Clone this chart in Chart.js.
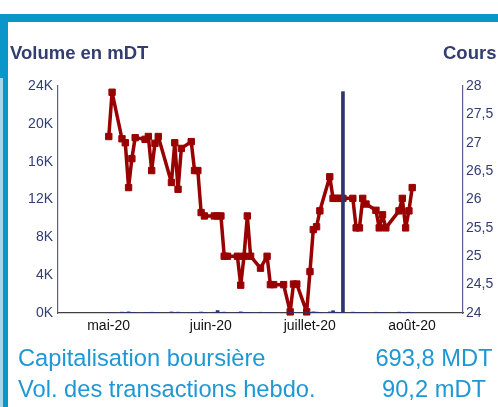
<!DOCTYPE html>
<html>
<head>
<meta charset="utf-8">
<script src="https://cdn.jsdelivr.net/npm/chart.js@4.4.1/dist/chart.umd.min.js"></script>
<style>
  body { margin: 0; background: #fff; }
  #wrap { position: relative; width: 498px; height: 407px; }
</style>
</head>
<body>
<div id="wrap"><canvas id="chart" width="498" height="407"></canvas></div>
<script>
// trading days, counted from 1 May 2020 (day 0)
const days = [-1, 0, 3, 4, 5, 6, 7, 10, 11, 12, 13, 14, 18, 19, 20, 21, 24, 25, 26, 27, 28,
  31, 32, 33, 34, 35, 38, 39, 40, 41, 42, 45, 47, 48, 49, 52, 54, 55, 56, 59, 60,
  61, 62, 63, 66, 67, 68, 69, 70, 73, 74, 75, 76, 77, 80, 81, 82, 83, 87, 88, 89, 90, 91];

// cours (DT)
const cours = [27.11, 27.89, 27.07, 27.00, 26.21, 26.72, 27.09, 27.06, 27.11, 26.51, 26.99, 27.11,
  26.30, 27.00, 26.18, 26.90, 27.02, 26.51, 26.51, 25.77, 25.71,
  25.71, 25.71, 25.71, 25.00, 25.00, 25.00, 24.49, 25.00, 25.71, 25.00, 24.79, 25.00, 24.50, 24.50,
  24.50, 24.02, 24.51, 24.51, 24.02, 24.73,
  25.47, 25.52, 25.80, 26.40, 26.02, 26.02, 26.02, 26.02, 26.02, 25.50, 25.50, 26.02, 25.92,
  25.81, 25.50, 25.73, 25.50, 25.80, 26.02, 25.50, 25.80, 26.21];

// volume (DT)
const volumes = [60, 40, 90, 50, 120, 70, 40, 60, 30, 80, 50, 40, 110, 60, 90, 40, 70, 50, 30, 100, 60,
  80, 260, 60, 90, 40, 50, 120, 70, 60, 40, 80, 50, 60, 30, 40, 90, 50, 40, 80, 70,
  120, 90, 60, 110, 240, 80, 60, 23400, 90, 70, 50, 60, 40, 80, 60, 50, 70, 90, 60, 40, 80, 60];

const monthTicks = [0, 31, 61, 92];
const monthLabels = ['mai-20', 'juin-20', 'juillet-20', 'août-20'];

const leftTitle = 'Volume en mDT';
const rightTitle = 'Cours';
const capLabel = 'Capitalisation boursière';
const capValue = '693,8 MDT';
const volLabel = 'Vol. des transactions hebdo.';
const volValue = '90,2 mDT';

const FONT = '"Liberation Sans", Arial, sans-serif';
Chart.defaults.font.family = FONT;

const navy = '#333d72';
const blue = '#0a96c8';
const textBlue = '#1e98d5';

// frame and texts around the plot
const decor = {
  id: 'decor',
  afterDraw(chart) {
    const ctx = chart.ctx;
    ctx.save();
    ctx.fillStyle = blue;
    ctx.fillRect(0, 14, 498, 8);
    ctx.fillRect(0, 14, 8, 393);
    ctx.fillStyle = '#a9d5ee';
    ctx.fillRect(0, 78, 3, 329);

    ctx.fillStyle = navy;
    ctx.font = 'bold 18.5px ' + FONT;
    ctx.textBaseline = 'alphabetic';
    ctx.textAlign = 'left';
    ctx.fillText(leftTitle, 10, 59);
    ctx.fillText(rightTitle, 443, 59);

    ctx.fillStyle = textBlue;
    ctx.font = '23.7px ' + FONT;
    ctx.fillText(capLabel, 18, 366);
    ctx.fillText(volLabel, 18, 397);
    ctx.textAlign = 'center';
    ctx.fillText(capValue, 434, 366);
    ctx.fillText(volValue, 434, 397);
    ctx.restore();
  }
};

const pricePoints = days.map((d, i) => ({ x: d, y: cours[i] }));
const volumePoints = days.map((d, i) => ({ x: d, y: volumes[i] }));

new Chart(document.getElementById('chart'), {
  type: 'bar',
  data: {
    datasets: [
      {
        type: 'bar',
        data: volumePoints,
        yAxisID: 'y',
        backgroundColor: '#2c3570',
        barThickness: 3,
        order: 0
      },
      {
        type: 'line',
        data: pricePoints,
        yAxisID: 'y1',
        borderColor: '#990000',
        borderWidth: 3.5,
        borderJoinStyle: 'round',
        borderCapStyle: 'round',
        pointStyle: 'rect',
        pointRadius: 4.5,
        pointBackgroundColor: '#990000',
        pointBorderColor: '#990000',
        pointBorderWidth: 1,
        tension: 0,
        clip: false,
        order: 1
      }
    ]
  },
  options: {
    responsive: false,
    animation: false,
    layout: { padding: { top: 86 } },
    plugins: { legend: { display: false }, tooltip: { enabled: false } },
    scales: {
      x: {
        type: 'linear',
        min: -16.4,
        max: 106.4,
        offset: false,
        grid: { display: false, drawTicks: false, tickLength: 0 },
        border: { display: true, color: '#404040', width: 1.2 },
        ticks: {
          autoSkip: false,
          maxRotation: 0,
          labelOffset: -3.5,
          padding: 5,
          color: '#111',
          font: { size: 14 },
          callback: (v, i) => monthLabels[i]
        },
        afterBuildTicks: s => { s.ticks = monthTicks.map(v => ({ value: v })); },
        afterFit: s => { s.height = 94; }
      },
      y: {
        position: 'left',
        min: 0,
        max: 24000,
        grid: { display: false, drawTicks: false, tickLength: 0 },
        border: { display: true, color: '#5a5f8c', width: 1.2 },
        ticks: {
          stepSize: 4000,
          padding: 5,
          color: navy,
          font: { size: 14 },
          callback: v => (v / 1000) + 'K'
        },
        afterFit: s => { s.width = 58; }
      },
      y1: {
        position: 'right',
        min: 24,
        max: 28,
        grid: { display: false, drawTicks: false, tickLength: 0 },
        border: { display: true, color: '#5a5f8c', width: 1.2 },
        ticks: {
          stepSize: 0.5,
          padding: 3,
          color: navy,
          font: { size: 14 },
          callback: v => String(v).replace('.', ',')
        },
        afterFit: s => { s.width = 35; }
      }
    }
  },
  plugins: [decor]
});
</script>
</body>
</html>
